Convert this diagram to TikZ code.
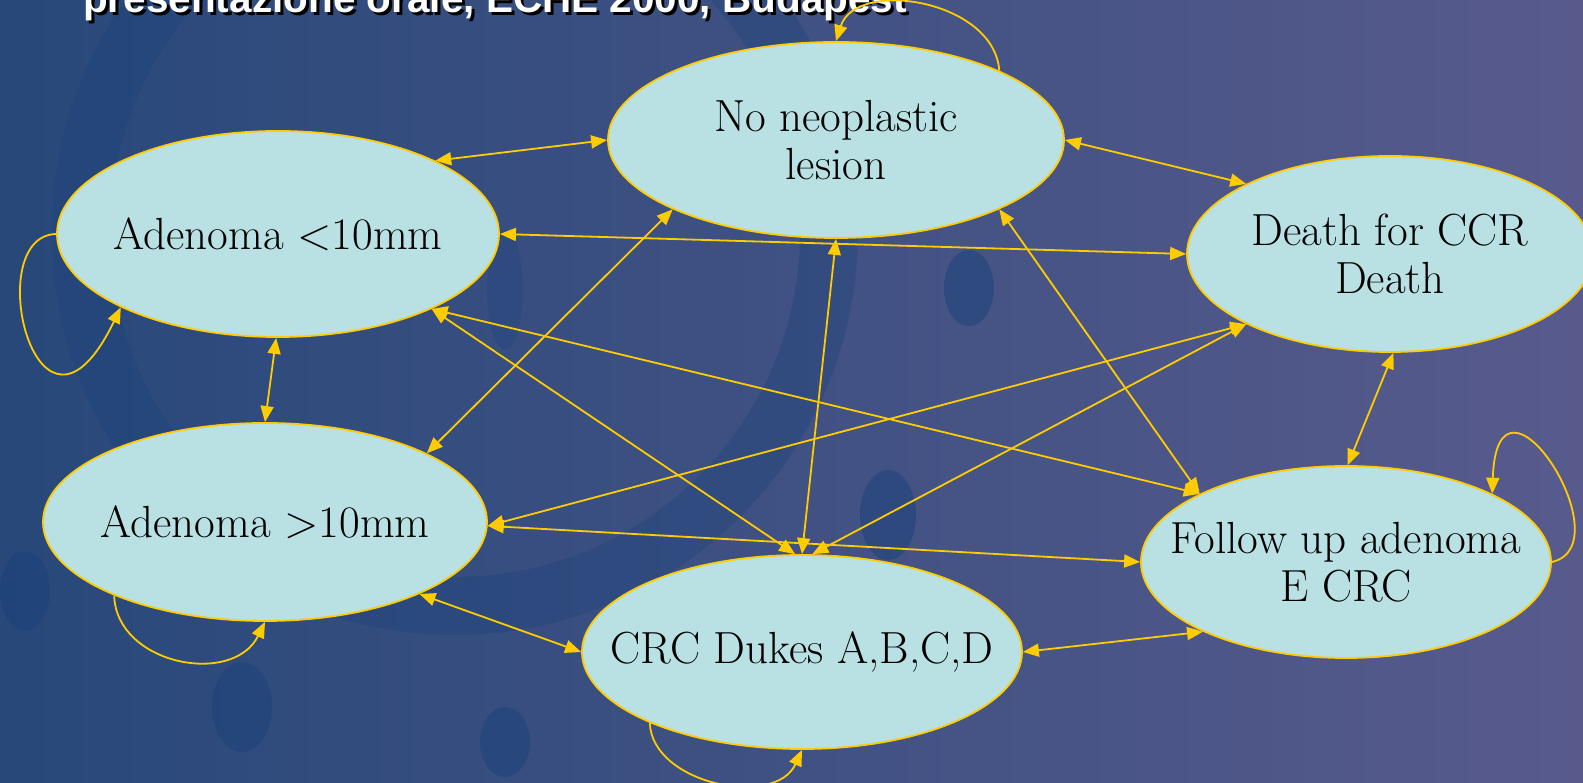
\documentclass[tikz,border=0pt]{standalone}
\usepackage{fontspec}
\newfontfamily\titlefont{Liberation Sans}
\usetikzlibrary{arrows.meta,shapes.geometric}
\definecolor{bgL}{RGB}{40,72,122}
\definecolor{bgR}{RGB}{88,90,140}
\definecolor{wm}{RGB}{26,66,122}
\definecolor{nodefill}{RGB}{185,224,227}
\definecolor{gold}{RGB}{255,204,0}
\tikzset{
  state/.style={ellipse, draw=gold, line width=1.8pt, fill=nodefill, inner sep=0pt},
  lbl/.style={font=\fontsize{45}{48}\selectfont, align=center, text=black, inner sep=0pt},
  conn/.style={draw=gold, line width=1.8pt, {Triangle[length=16pt,width=13pt]}-{Triangle[length=16pt,width=13pt]}},
  loopc/.style={draw=gold, line width=1.8pt, -{Triangle[length=16pt,width=13pt]}},
  wmark/.style={fill=wm, opacity=0.5},
  ttl/.style={anchor=base west, inner sep=0pt, font=\titlefont\bfseries\fontsize{40.5}{40.5}\selectfont},
}
\begin{document}
\begin{tikzpicture}[x=1pt,y=1pt]
\useasboundingbox (0,0) rectangle (1583,783);
\clip (0,0) rectangle (1583,783);
\fill[left color=bgL, right color=bgR] (0,0) rectangle (1583,783);
% watermark
\draw[draw=wm, line width=58pt, opacity=0.35] (455,551) circle[radius=374];
\fill[wmark] (969,495) ellipse[x radius=25, y radius=38];
\fill[wmark] (888,268) ellipse[x radius=28, y radius=45];
\fill[wmark] (242,76) ellipse[x radius=30, y radius=45];
\fill[wmark] (505,41) ellipse[x radius=25, y radius=35];
\fill[wmark] (25,192) ellipse[x radius=25, y radius=40];
\fill[wmark, opacity=0.3] (505,493) ellipse[x radius=18, y radius=60];
% title (cut off at top, as in the reference)
\node[ttl, text=black] (titleshadow) at (86,767) {presentazione orale, ECHE 2000, Budapest};
\node[ttl, text=white] (title) at (83,770) {presentazione orale, ECHE 2000, Budapest};
% states
\node[state, minimum width=456, minimum height=196] (NN) at (836,643) {};
\node[state, minimum width=442, minimum height=206] (A1) at (278,549) {};
\node[state, minimum width=406, minimum height=196] (D) at (1390,529) {};
\node[state, minimum width=444, minimum height=198] (A2) at (265,261) {};
\node[state, minimum width=440, minimum height=194] (CRC) at (802,131) {};
\node[state, minimum width=410, minimum height=192] (F) at (1346,221) {};
\node[lbl] (NNt) at (NN) {No neoplastic\\lesion};
\node[lbl] (A1t) at (A1) {Adenoma <10mm};
\node[lbl] (Dt) at (D) {Death for CCR\\Death};
\node[lbl] (A2t) at (A2) {Adenoma >10mm};
\node[lbl] (CRCt) at (CRC) {CRC Dukes A,B,C,D};
\node[lbl] (Ft) at (F) {Follow up adenoma\\E CRC};
% connectors
\draw[conn] (A1.25) -- (NN.180);
\draw[conn] (NN.0) -- (D.154);
\draw[conn] (A1.0) -- (D.180);
\draw[conn] (A1.-91) -- (A2.90);
\draw[conn] (NN.203) -- (A2.23);
\draw[conn] (A1.-26) -- (CRC.94);
\draw[conn] (A1.-26) -- (F.155);
\draw[conn] (NN.-90) -- (CRC.90);
\draw[conn] (NN.-23) -- (F.155);
\draw[conn] (D.206) -- (A2.-1);
\draw[conn] (D.206) -- (CRC.84);
\draw[conn] (A2.-1) -- (F.180);
\draw[conn] (A2.-25) -- (CRC.180);
\draw[conn] (CRC.0) -- (F.206);
\draw[conn] (D.-88) -- (F.89);
% self loops
\draw[loopc] (A1.180) .. controls +(-77,-2) and +(-83,-172) .. (A1.205.5);
\draw[loopc] (NN.23) .. controls +(-5,71) and +(20,63) .. (NN.90);
\draw[loopc] (A2.206) .. controls +(2,-69) and +(-32,-65) .. (A2.-90);
\draw[loopc] (CRC.205) .. controls +(2,-61) and +(-27,-59) .. (CRC.-90);
\draw[loopc] (F.0) .. controls +(74,17) and +(5,149) .. (F.25);
\end{tikzpicture}
\end{document}
